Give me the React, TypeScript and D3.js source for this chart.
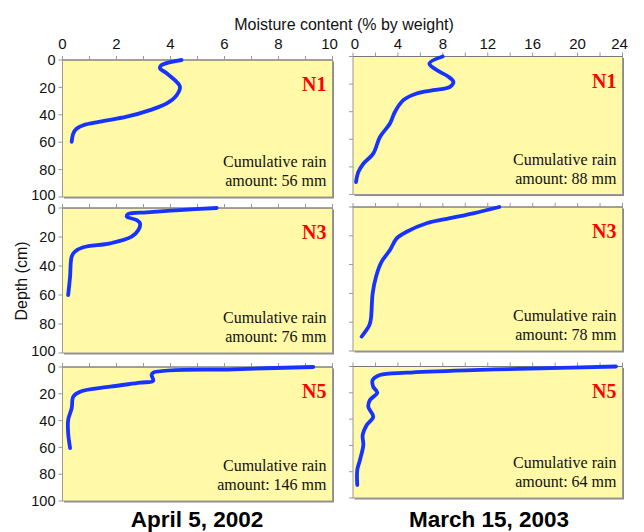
import React from "react";
import * as d3 from "d3";

// ---- data ----
const leftTicks = [0, 2, 4, 6, 8, 10];
const rightTicks = [0, 4, 8, 12, 16, 20, 24];
const depthTicks = [0, 20, 40, 60, 80, 100];
const dateTitles = ["April 5, 2002", "March 15, 2003"];
const siteNames = ["N1", "N3", "N5"];
const rainApril = [56, 76, 146];
const rainMarch = [88, 78, 64];

const n1AprMoisture = [4.41, 3.67, 3.61, 3.86, 4.23, 4.35, 4.23, 3.86, 3.24, 2.38, 1.39, 0.77, 0.53, 0.4, 0.34];
const n1AprDepth = [0, 3.7, 6, 9.7, 16, 19.5, 25.6, 31.7, 36.6, 41.4, 45, 47.6, 50, 53.6, 59.7];
const n3AprMoisture = [5.71, 4.35, 3.12, 2.44, 2.38, 2.75, 2.87, 2.81, 2.56, 1.76, 0.77, 0.46, 0.34, 0.28, 0.21];
const n3AprDepth = [0, 1.4, 3, 4.1, 6, 8.3, 10.6, 15.2, 19.8, 24.4, 27.1, 30.1, 33.6, 47.4, 60];
const n5AprMoisture = [9.29, 6.33, 3.36, 3.3, 3.36, 2.87, 1.76, 0.65, 0.4, 0.34, 0.21, 0.21, 0.28];
const n5AprDepth = [0, 1.7, 4.2, 6, 10.2, 11.7, 14.7, 18.4, 22.1, 30.8, 39.5, 49.4, 60.5];

const n1MarMoisture = [7.99, 6.8, 7.45, 8.5, 8.94, 8.64, 7.15, 5.67, 4.48, 3.74, 3.29, 2.4, 1.8, 0.92, 0.47, 0.27];
const n1MarDepth = [0, 5, 9.8, 14.7, 18.3, 22, 24.4, 26.8, 31.6, 40, 48.6, 58.3, 70.4, 77.7, 83.8, 91];
const n3MarMoisture = [13.03, 10.71, 8.64, 6.56, 4.78, 3.89, 3.29, 2.55, 2.05, 1.75, 1.6, 1.46, 0.77];
const n3MarDepth = [0, 4.4, 7.8, 11.3, 17.2, 21.8, 29.9, 38, 48.4, 60, 77.3, 82, 90];
const n5MarMoisture = [23.42, 16.65, 10.71, 4.78, 2.4, 1.75, 1.8, 2.16, 1.51, 1.36, 1.8, 1.22, 0.86, 0.92, 0.62, 0.38, 0.38];
const n5MarDepth = [0, 1.4, 2.7, 4.7, 6.5, 10.3, 15.4, 19.9, 25.5, 30.6, 38.2, 44.5, 52.1, 59.7, 71.1, 78.7, 90.1];

const aprilSeries = [
  [n1AprMoisture, n1AprDepth],
  [n3AprMoisture, n3AprDepth],
  [n5AprMoisture, n5AprDepth],
];
const marchSeries = [
  [n1MarMoisture, n1MarDepth],
  [n3MarMoisture, n3MarDepth],
  [n5MarMoisture, n5MarDepth],
];

// ---- layout ----
const W = 644;
const H = 532;
const columns = [
  { x0: 62.5, x1: 332.5, max: 10, minor: 1, ticks: leftTicks, rows: [[60, 197], [208, 353], [367, 501]], series: aprilSeries, rain: rainApril, labelY: true, title: dateTitles[0], titleX: 197 },
  { x0: 353, x1: 622.5, max: 24, minor: 2, ticks: rightTicks, rows: [[56.5, 194.5], [207, 351], [366.5, 498]], series: marchSeries, rain: rainMarch, labelY: false, title: dateTitles[1], titleX: 489 },
];

const sans = "'Liberation Sans', Arial, sans-serif";
const serif = "'Liberation Serif', 'Times New Roman', serif";
const fill = "#FFF9A8";
const blue = "#1733FF";

function Panel({ col, ri }: any) {
  const [top, bottom] = col.rows[ri];
  const x = d3.scaleLinear().domain([0, col.max]).range([col.x0, col.x1]);
  const y = d3.scaleLinear().domain([0, 100]).range([top, bottom]);
  const [mv, dv] = col.series[ri];
  const pts = mv.map((m: number, i: number) => [m, dv[i]] as [number, number]);
  const line = d3
    .line<[number, number]>()
    .x((p) => x(p[0]))
    .y((p) => y(p[1]))
    .curve(d3.curveCatmullRom.alpha(0.5));
  const minorTicks = d3.range(0, col.max + 0.001, col.minor);
  const last = ri === col.rows.length - 1;
  return (
    <g>
      <rect x={col.x0 + 1.5} y={top + 1.5} width={col.x1 - col.x0} height={bottom - top} fill="#8a8a8a" />
      <rect x={col.x0} y={top} width={col.x1 - col.x0} height={bottom - top} fill={fill} stroke="#9a9a9a" strokeWidth={1} />
      <line x1={col.x0} x2={col.x1} y1={top} y2={top} stroke="#777" strokeWidth={1.2} />
      {minorTicks.map((t: number) => (
        <line key={"t" + t} x1={x(t)} x2={x(t)} y1={top} y2={top - 4} stroke="#999" strokeWidth={1} />
      ))}
      {depthTicks.map((t) => (
        <line key={"d" + t} x1={col.x0} x2={col.x0 - 4} y1={y(t)} y2={y(t)} stroke="#999" strokeWidth={1} />
      ))}
      {col.labelY &&
        depthTicks.map((t) => (
          <text
            key={"l" + t}
            x={col.x0 - 7}
            y={y(t) + (t === 100 && !last ? -2.5 : 0) + (t === 0 && ri > 0 ? 1 : 0)}
            dy="0.36em"
            textAnchor="end"
            fontFamily={sans}
            fontSize={14.5}
            fill="#111"
          >
            {t}
          </text>
        ))}
      <path d={line(pts) || ""} fill="none" stroke={blue} strokeWidth={3.8} strokeLinecap="round" strokeLinejoin="round" />
      <text x={col.x1 - 6} y={top + 31} textAnchor="end" fontFamily={serif} fontWeight="bold" fontSize={20} fill="#FF0000">
        {siteNames[ri]}
      </text>
      <text x={col.x1 - 6} y={bottom - 30} textAnchor="end" fontFamily={serif} fontSize={16} fill="#111">
        Cumulative rain
      </text>
      <text x={col.x1 - 6} y={bottom - 11} textAnchor="end" fontFamily={serif} fontSize={16} fill="#111">
        {`amount: ${col.rain[ri]} mm`}
      </text>
    </g>
  );
}

export default function App() {
  return (
    <svg width={W} height={H} style={{ position: "absolute", left: 0, top: 0, background: "#fff" }}>
      <text x={344} y={30} textAnchor="middle" fontFamily={sans} fontSize={16} fill="#111">
        Moisture content (% by weight)
      </text>
      {columns.map((col, ci) => {
        const x = d3.scaleLinear().domain([0, col.max]).range([col.x0, col.x1]);
        return (
          <g key={ci}>
            {col.ticks.map((t) => (
              <text key={t} x={x(t) + (ci === 0 && t === 10 ? -3 : 0) + (ci === 1 && t === 0 ? 2 : 0) + (ci === 1 && t === 24 ? -3 : 0)} y={49} textAnchor="middle" fontFamily={sans} fontSize={15} fill="#111">
                {t}
              </text>
            ))}
            {col.rows.map((_, ri) => (
              <Panel key={ri} col={col} ri={ri} />
            ))}
            <text x={col.titleX} y={527} textAnchor="middle" fontFamily={sans} fontWeight="bold" fontSize={22.5} fill="#000">
              {col.title}
            </text>
          </g>
        );
      })}
      <text transform="translate(27,281) rotate(-90)" textAnchor="middle" fontFamily={sans} fontSize={16} fill="#111">
        Depth (cm)
      </text>
    </svg>
  );
}
